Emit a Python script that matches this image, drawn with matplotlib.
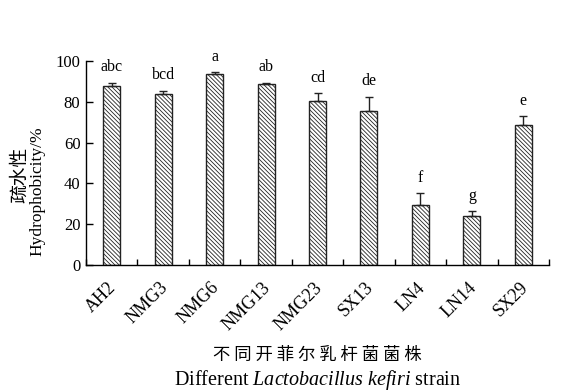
import matplotlib.pyplot as plt
import matplotlib.transforms as mtransforms
import numpy as np

plt.rcParams['font.family'] = ['Liberation Serif', 'Noto Sans CJK SC']
plt.rcParams['mathtext.fontset'] = 'custom'
plt.rcParams['mathtext.it'] = 'Liberation Serif:italic'
plt.rcParams['mathtext.rm'] = 'Liberation Serif'
plt.rcParams['hatch.linewidth'] = 0.6
plt.rcParams['hatch.color'] = '#666666'

strains = ["AH2", "NMG3", "NMG6", "NMG13", "NMG23", "SX13", "LN4", "LN14", "SX29"]
hydrophobicity = [87.7, 83.7, 93.6, 88.6, 80.4, 75.5, 29.6, 24.2, 68.8]
errors = [1.7, 1.8, 0.8, 0.8, 3.8, 7.0, 5.5, 2.1, 4.1]
letters = ["abc", "bcd", "a", "ab", "cd", "de", "f", "g", "e"]

fig = plt.figure(figsize=(5.64, 3.91), dpi=100)
ax = fig.add_axes([86 / 564, 126 / 391, 463 / 564, 204 / 391])

x = np.arange(len(strains))
ax.bar(x, hydrophobicity, width=0.33, color='white', edgecolor='#222222',
       linewidth=1.0, hatch='\\\\\\\\\\\\\\\\', zorder=2)
ax.errorbar(x, hydrophobicity, yerr=[np.zeros(len(errors)), errors],
            fmt='none', ecolor='#222222', elinewidth=1.0, capsize=3, capthick=1.0, zorder=3)

for xi, h, e, t in zip(x, hydrophobicity, errors, letters):
    ax.text(xi, h + e + 5.5, t, ha='center', va='baseline', fontsize=11.5)

ax.set_xlim(-0.5, len(strains) - 0.5)
ax.set_ylim(0, 100)
ax.set_yticks([0, 20, 40, 60, 80, 100])
ax.set_xticks(x)
ax.set_xticks(np.arange(-0.5, len(strains)), minor=True)
ax.set_xticklabels(strains, rotation=45, ha='right', va='top',
                   rotation_mode='anchor', fontsize=13)
ax.tick_params(axis='x', which='major', length=0, pad=8)
ax.tick_params(axis='x', which='minor', direction='in', length=4, width=1.0)
ax.tick_params(axis='y', direction='in', length=5, width=1.0, labelsize=12, pad=4)

# nudge rotated strain names a little left/down
shift = mtransforms.ScaledTranslation(-4 / 100, -3 / 100, fig.dpi_scale_trans)
for lbl in ax.get_xticklabels():
    lbl.set_transform(lbl.get_transform() + shift)

for side in ['top', 'right']:
    ax.spines[side].set_visible(False)
for side in ['left', 'bottom']:
    ax.spines[side].set_linewidth(1.0)

# two-line y label: Chinese above English
fig.text(20 / 564, 1 - 175 / 391, "疏水性", rotation=90, ha='center', va='center',
         fontsize=13.5, family=['Noto Sans CJK SC'])
fig.text(37 / 564, 1 - 191 / 391, "Hydrophobicity/%", rotation=90,
         ha='center', va='center', fontsize=12.5)

xmid = 0.5 * (86 + 549) / 564
fig.text(xmid, 1 - 355 / 391, "不 同 开 菲 尔 乳 杆 菌 菌 株",
         ha='center', va='center', fontsize=12.5, family=['Noto Sans CJK SC'])
fig.text(xmid, 1 - 380 / 391,
         r"Different $Lactobacillus$ $kefiri$ strain",
         ha='center', va='center', fontsize=14.5)

fig.savefig("out.png", dpi=100)
